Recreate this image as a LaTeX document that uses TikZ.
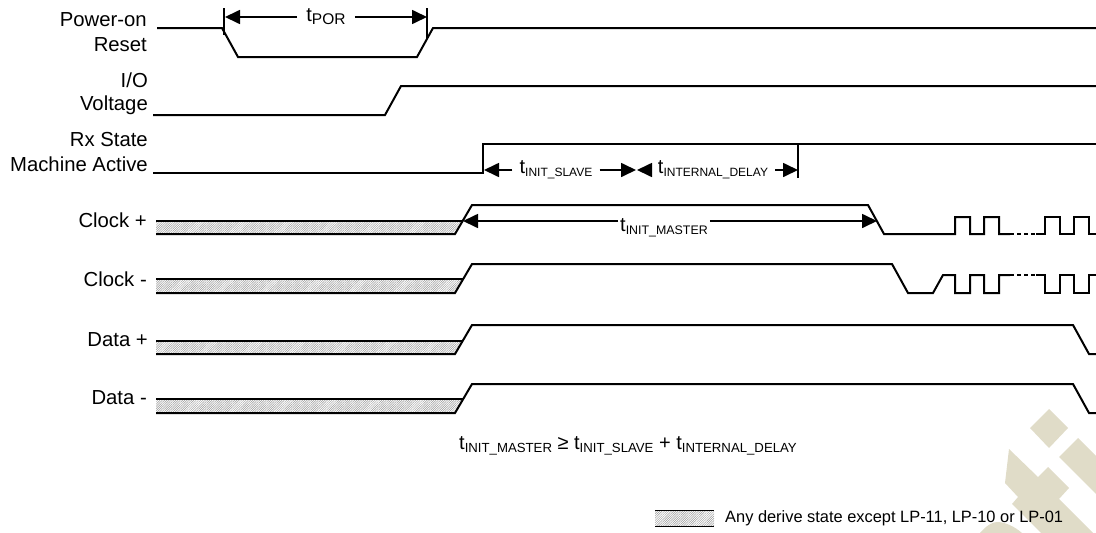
\documentclass[tikz,border=0pt]{standalone}
\usepackage{fontspec}
\setmainfont{Liberation Sans}
\usetikzlibrary{arrows.meta,patterns.meta}

\definecolor{markcolor}{HTML}{E0DCC8}
\newcommand{\tsub}[2][12]{\fontsize{20}{20}\selectfont t\fontsize{#1}{#1}\selectfont\raisebox{-3pt}{#2}}

\tikzset{
  sig/.style={line width=2pt,line join=miter},
  tick/.style={line width=1.4pt},
  dim/.style={line width=1.7pt,-{Triangle[length=15pt,width=14pt]}},
  lbl/.style={anchor=east,inner sep=0pt,font=\fontsize{20.3}{20.3}\selectfont},
  timing/.style={inner xsep=7pt,inner ysep=0pt},
  hatch/.style={pattern={Lines[angle=45,distance=1.6pt,line width=0.5pt]},pattern color=black!40}
}

\begin{document}
\begin{tikzpicture}[x=1pt,y=-1pt]
\useasboundingbox (0,0) rectangle (1096,533);

% corner mark
\fill[markcolor] (1049,409) -- (1068,428) -- (1049,448) -- (1030,428) -- cycle;
\fill[markcolor] (1078,438) -- (1096,456) -- (1096,494) -- (1059,457) -- cycle;
\fill[markcolor] (1009,449) -- (1038,477) -- (1048,467) -- (1069,488) -- (1059,499) -- (1093,533)
  -- (1041,533) -- (1012,504) -- (1018,497) -- (1005,483) -- cycle;
\fill[markcolor] (980,533) .. controls (986,526) and (992,522) .. (997,522)
  .. controls (1006,522) and (1015,527) .. (1022,533) -- cycle;

% labels
\node[lbl] at (147,20) {Power-on};
\node[lbl] at (147,45) {Reset};
\node[lbl] at (148,80) {I/O};
\node[lbl] at (148,105) {Voltage};
\node[lbl] at (148,140) {Rx State};
\node[lbl] at (148,164) {Machine Active};
\node[lbl] at (147,220) {Clock +};
\node[lbl] at (147,279) {Clock -};
\node[lbl] at (148,340) {Data +};
\node[lbl] at (147,398) {Data -};

% hatched part of the lanes
\foreach \ytop/\ybot/\yhigh in {221/234/205,279/293/264,341/354/325,399/413/384} {
  \fill[hatch] (156,\ytop) -- (463,\ytop) -- (455,\ybot) -- (156,\ybot) -- cycle;
  \draw[sig] (156,\ytop) -- (463,\ytop);
  \draw[sig] (156,\ybot) -- (455,\ybot) -- (472,\yhigh) -- (490,\yhigh);
}

% signals
\draw[sig] (157,28) -- (222,28) -- (238,57) -- (417,57) -- (433,28) -- (1096,28);
\draw[sig] (153,115) -- (385,115) -- (401,86) -- (1096,86);
\draw[sig] (153,173) -- (483,173) -- (483,144) -- (1096,144);

\draw[sig] (490,205) -- (868,205) -- (884,234) -- (955,234)
  -- (955,217) -- (970,217) -- (970,234) -- (984,234) -- (984,217) -- (999,217) -- (999,234) -- (1010,234);
\draw[sig,dash pattern=on 4pt off 3pt] (1010,234) -- (1036,234);
\draw[sig] (1036,234) -- (1045,234) -- (1045,217) -- (1060,217) -- (1060,234) -- (1074,234)
  -- (1074,217) -- (1089,217) -- (1089,234) -- (1096,234);

\draw[sig] (490,264) -- (892,264) -- (908,293) -- (933,293) -- (943,275) -- (955,275)
  -- (955,293) -- (970,293) -- (970,275) -- (984,275) -- (984,293) -- (999,293) -- (999,275) -- (1010,275);
\draw[sig,dash pattern=on 4pt off 3pt] (1010,275) -- (1036,275);
\draw[sig] (1036,275) -- (1045,275) -- (1045,293) -- (1060,293) -- (1060,275) -- (1074,275)
  -- (1074,293) -- (1089,293) -- (1089,275) -- (1096,275);

\draw[sig] (490,325) -- (1073,325) -- (1089,354) -- (1096,354);
\draw[sig] (490,384) -- (1073,384) -- (1089,413) -- (1096,413);

% timing marks
\draw[tick] (224,8) -- (224,35);
\draw[tick] (427,8) -- (427,38);
\draw[tick] (798,144) -- (798,178);

\coordinate (porL) at (225,17);
\coordinate (porR) at (427,17);
\coordinate (slaveL) at (484,170);
\coordinate (slaveR) at (636,170);
\coordinate (delayL) at (637,170);
\coordinate (delayR) at (798,170);
\coordinate (masterL) at (463,221);
\coordinate (masterR) at (877,221);

\node[timing,inner xsep=9pt] (tPOR) at (326,17) {\tsub[15.5]{POR}};
\node[timing] (tSlave) at (556,170) {\tsub{INIT\_SLAVE}};
\node[timing] (tDelay) at (713,170) {\tsub{INTERNAL\_DELAY}};
\node[timing,inner xsep=2pt] (tMaster) at (664,228) {\tsub[12.4]{INIT\_MASTER}};

\draw[dim] (tPOR) -- (porL);
\draw[dim] (tPOR) -- (porR);
\draw[dim] (tSlave) -- (slaveL);
\draw[dim] (tSlave) -- (slaveR);
\draw[dim] (tDelay) -- (delayL);
\draw[dim] (tDelay) -- (delayR);
\draw[dim] (tMaster.west |- masterL) -- (masterL);
\draw[dim] (tMaster.east |- masterR) -- (masterR);

% relation under the lanes
\node[anchor=west,inner sep=0pt] (relation) at (459,446) {\tsub[13.2]{INIT\_MASTER}\fontsize{20}{20}\selectfont{} ≥ \tsub[13.2]{INIT\_SLAVE}\fontsize{20}{20}\selectfont{} + \tsub[13.2]{INTERNAL\_DELAY}};

% legend
\fill[hatch] (655,511) rectangle (714,526);
\draw[line width=1pt] (655,510.5) -- (714,510.5);
\draw[line width=1pt] (655,526.5) -- (714,526.5);
\node[anchor=west,inner sep=0pt,font=\fontsize{16.4}{16.4}\selectfont] (legend) at (725,518) {Any derive state except LP-11, LP-10 or LP-01};
\end{tikzpicture}
\end{document}
